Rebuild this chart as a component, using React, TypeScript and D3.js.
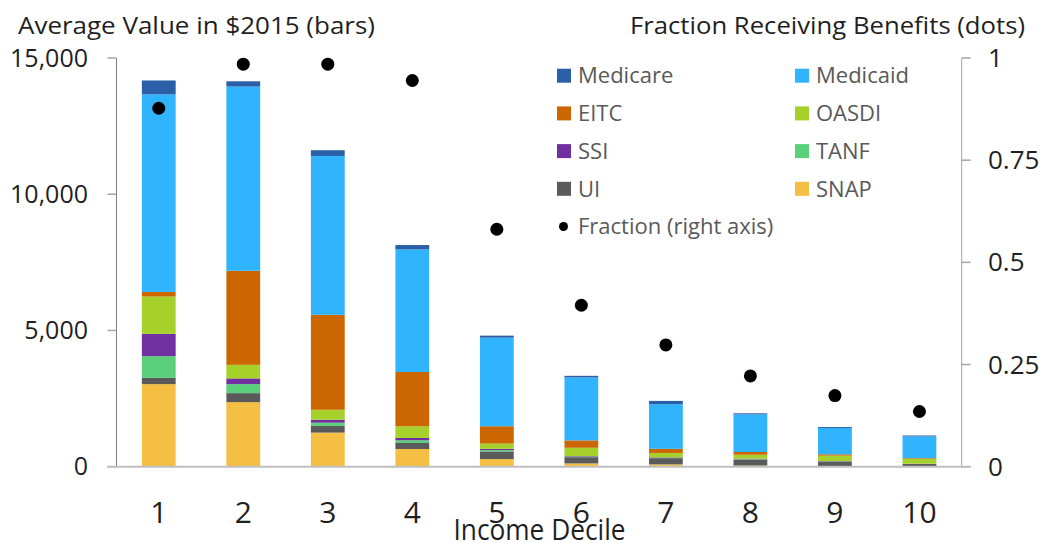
import React from "react";
import * as d3 from "d3";

// income deciles
const deciles = ["1", "2", "3", "4", "5", "6", "7", "8", "9", "10"];

// average value per program, $2015 (stacked bottom -> top)
const snap = [3030, 2370, 1250, 650, 280, 120, 85, 40, 20, 20];
const ui = [230, 330, 245, 220, 280, 230, 230, 220, 170, 80];
const tanf = [795, 330, 120, 100, 50, 20, 15, 15, 10, 5];
const ssi = [820, 210, 110, 85, 45, 20, 15, 20, 10, 5];
const oasdi = [1370, 500, 365, 430, 195, 305, 160, 145, 195, 180];
const eitc = [170, 3450, 3485, 1990, 635, 270, 150, 100, 50, 25];
const medicaid = [7250, 6760, 5830, 4500, 3250, 2310, 1640, 1380, 965, 795];
const medicare = [510, 195, 210, 160, 75, 60, 120, 40, 35, 35];

// fraction receiving benefits (right axis)
const fraction = [0.877, 0.985, 0.985, 0.945, 0.581, 0.395, 0.298, 0.222, 0.174, 0.135];

const leftTicks = [0, 5000, 10000, 15000];
const rightTicks = [0, 0.25, 0.5, 0.75, 1];

const programs = [
  { key: "SNAP", values: snap, color: "#f4bf42" },
  { key: "UI", values: ui, color: "#5a5a5a" },
  { key: "TANF", values: tanf, color: "#5bd07b" },
  { key: "SSI", values: ssi, color: "#7030a0" },
  { key: "OASDI", values: oasdi, color: "#a6d02a" },
  { key: "EITC", values: eitc, color: "#cc6600" },
  { key: "Medicaid", values: medicaid, color: "#30b4fe" },
  { key: "Medicare", values: medicare, color: "#2b5fa8" },
];

const legendCol1 = ["Medicare", "EITC", "SSI", "UI"];
const legendCol2 = ["Medicaid", "OASDI", "TANF", "SNAP"];

const W = 1041;
const H = 543;
const FONT = "'Open Sans', 'Noto Sans', sans-serif";

export default function App() {
  const x = d3.scaleBand().domain(deciles).range([116.5, 961.7]).paddingInner(0.6).paddingOuter(0.3);
  const y = d3.scaleLinear().domain([0, 15000]).range([466.7, 58]);
  const y2 = d3.scaleLinear().domain([0, 1]).range([466.7, 58]);

  const rows = deciles.map((d, i) => {
    const r: any = { decile: d };
    programs.forEach((p) => (r[p.key] = p.values[i]));
    return r;
  });
  const stack = d3.stack().keys(programs.map((p) => p.key))(rows);
  const colorOf = (k: string) => programs.find((p) => p.key === k)!.color;

  const fmt = d3.format(",");
  const fmt2 = (v: number) => String(v);

  const x0 = 116.5;
  const x1 = 961.7;

  return (
    <svg width={W} height={H} style={{ position: "absolute", left: 0, top: 0, background: "#fff" }} fontFamily={FONT}>
      {/* bars */}
      {stack.map((layer) => (
        <g key={layer.key} fill={colorOf(layer.key)}>
          {layer.map((seg, i) => (
            <rect
              key={i}
              x={x(deciles[i])}
              y={y(seg[1])}
              width={x.bandwidth()}
              height={Math.max(0, y(seg[0]) - y(seg[1]))}
            />
          ))}
        </g>
      ))}

      {/* left axis */}
      <line x1={x0} x2={x0} y1={y(15000)} y2={y(0)} stroke="#7f7f7f" strokeWidth={1} />
      {leftTicks.map((t) => (
        <g key={t}>
          <line x1={x0 - 9} x2={x0} y1={y(t)} y2={y(t)} stroke="#a6a6a6" strokeWidth={1.5} />
          <text x={88} y={y(t)} dy="0.35em" textAnchor="end" fontSize={25} fill="#1f1f1f">
            {fmt(t)}
          </text>
        </g>
      ))}

      {/* right axis */}
      <line x1={x1} x2={x1} y1={y2(1)} y2={y2(0)} stroke="#a6a6a6" strokeWidth={1} />
      {rightTicks.map((t) => (
        <g key={t}>
          <line x1={x1} x2={x1 + 9} y1={y2(t)} y2={y2(t)} stroke="#a6a6a6" strokeWidth={1.5} />
          <text x={988} y={y2(t)} dy="0.35em" textAnchor="start" fontSize={26} fill="#1f1f1f">
            {fmt2(t)}
          </text>
        </g>
      ))}

      {/* baseline */}
      <line x1={x0 - 9} x2={x1 + 9} y1={y(0)} y2={y(0)} stroke="#bfbfbf" strokeWidth={2} />

      {/* dots */}
      {fraction.map((f, i) => (
        <circle key={i} cx={x(deciles[i])! + x.bandwidth() / 2} cy={y2(f)} r={6.5} fill="#000" />
      ))}

      {/* x tick labels */}
      {deciles.map((d) => (
        <text key={d} x={x(d)! + x.bandwidth() / 2} y={522.7} textAnchor="middle" fontSize={30} fill="#1f1f1f">
          {d}
        </text>
      ))}
      <text x={539.5} y={540} textAnchor="middle" fontSize={29} fill="#1f1f1f" textLength={172} lengthAdjust="spacingAndGlyphs">
        Income Decile
      </text>

      {/* titles */}
      <text x={18} y={34} fontSize={23} fill="#1f1f1f" textLength={357} lengthAdjust="spacingAndGlyphs">
        Average Value in $2015 (bars)
      </text>
      <text x={630} y={34} fontSize={23} fill="#1f1f1f" textLength={395} lengthAdjust="spacingAndGlyphs">
        Fraction Receiving Benefits (dots)
      </text>

      {/* legend */}
      {[legendCol1, legendCol2].map((col, ci) =>
        col.map((k, ri) => (
          <g key={k} transform={`translate(${ci === 0 ? 557 : 795},${75.7 + ri * 37.7})`}>
            <rect x={0} y={-7} width={14} height={14} fill={colorOf(k)} />
            <text x={21} y={0} dy="0.35em" fontSize={22} fill="#595959">
              {k}
            </text>
          </g>
        ))
      )}
      <g transform={`translate(557,${75.7 + 4 * 37.7})`}>
        <circle cx={6.5} cy={0} r={4.5} fill="#000" />
        <text x={21} y={0} dy="0.35em" fontSize={22} fill="#595959">
          Fraction (right axis)
        </text>
      </g>
    </svg>
  );
}
